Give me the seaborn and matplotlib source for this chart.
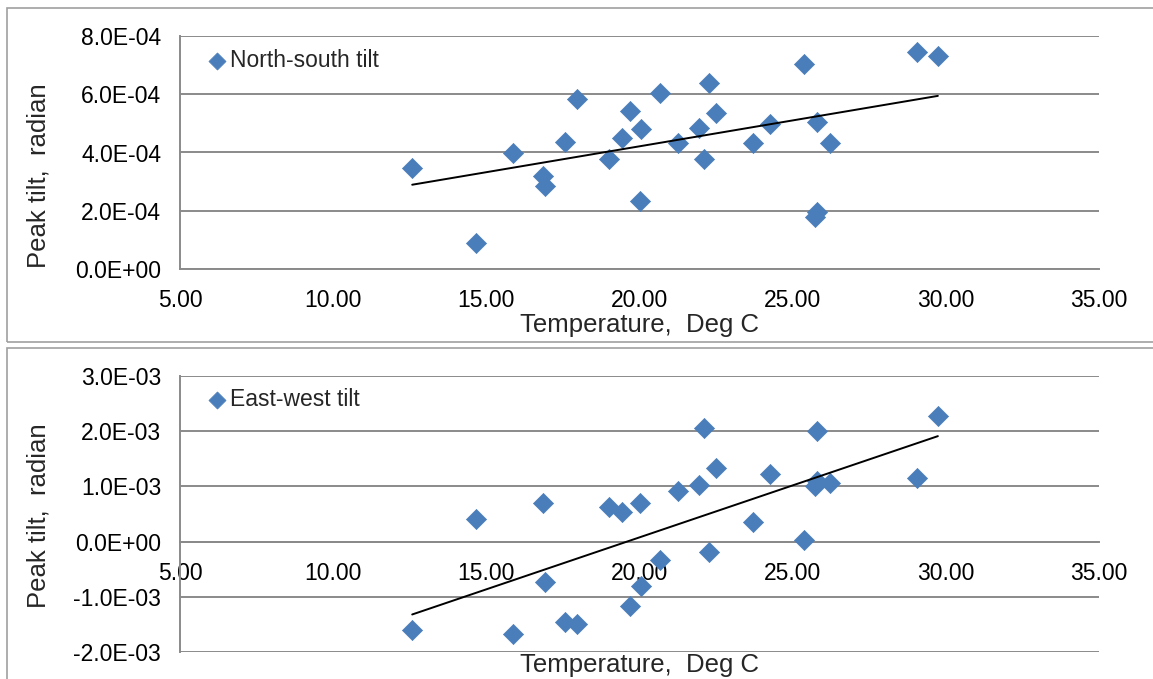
import matplotlib
matplotlib.use("Agg")
import matplotlib.pyplot as plt
import matplotlib.patches as mpatches
from matplotlib.ticker import FuncFormatter, MultipleLocator
import seaborn as sns
import numpy as np

# ---- data ----
temperature = [12.58, 14.66, 15.88, 16.85, 16.93, 17.56, 17.97, 19.02, 19.44, 19.69,
               20.00, 20.05, 20.66, 21.27, 21.94, 22.12, 22.28, 22.51, 23.72, 24.25,
               25.38, 25.73, 25.78, 25.81, 26.23, 29.07, 29.74]
ns_tilt = [3.47e-4, 0.88e-4, 3.98e-4, 3.21e-4, 2.84e-4, 4.36e-4, 5.82e-4, 3.79e-4, 4.51e-4, 5.43e-4,
           2.35e-4, 4.79e-4, 6.05e-4, 4.31e-4, 4.84e-4, 3.79e-4, 6.37e-4, 5.36e-4, 4.31e-4, 4.99e-4,
           7.03e-4, 1.78e-4, 1.97e-4, 5.05e-4, 4.31e-4, 7.44e-4, 7.31e-4]
ew_tilt = [-1.60e-3, 0.41e-3, -1.67e-3, 0.70e-3, -0.73e-3, -1.46e-3, -1.49e-3, 0.62e-3, 0.53e-3, -1.16e-3,
           0.70e-3, -0.81e-3, -0.33e-3, 0.91e-3, 1.02e-3, 2.05e-3, -0.19e-3, 1.33e-3, 0.35e-3, 1.23e-3,
           0.03e-3, 1.00e-3, 1.10e-3, 2.01e-3, 1.07e-3, 1.16e-3, 2.28e-3]
series_names = ["North-south tilt", "East-west tilt"]
x_label = "Temperature,  Deg C"
y_label = "Peak tilt,  radian"

sns.set_style("white")
plt.rcParams['font.family'] = ['Liberation Sans', 'DejaVu Sans']

W, H = 1153, 679
fig = plt.figure(figsize=(W / 100, H / 100), dpi=100)

blue = "#4A7EBB"
grid_c = "#8a8a8a"

def px_ax(l, r, t, b):
    return fig.add_axes([l / W, 1 - b / H, (r - l) / W, (b - t) / H])

ax1 = px_ax(180, 1099, 36, 269)
ax2 = px_ax(180, 1099, 376, 652)

# outer boxes
for (t, b) in [(8, 342), (348, 700)]:
    fig.patches.append(mpatches.Rectangle((7 / W, 1 - b / H), (1170 - 7) / W, (b - t) / H,
                                          transform=fig.transFigure, fill=False,
                                          edgecolor="#a0a0a0", lw=1.2, clip_on=False))

configs = [
    (ax1, ns_tilt, series_names[0], (0, 8e-4), 2e-4, (-0.240, 0.399), 0.943),
    (ax2, ew_tilt, series_names[1], (-2e-3, 3e-3), 1e-3, (-0.047, 0.493), 0.955),
]

for ax, yvals, name, ylim, ystep, (xl_y, yl_y), leg_y in configs:
    sns.scatterplot(x=temperature, y=yvals, marker="D", s=105, color=blue,
                    edgecolor=blue, linewidth=0.5, label=name, ax=ax, zorder=3)
    sns.regplot(x=temperature, y=yvals, scatter=False, ci=None, truncate=True,
                color="black", line_kws={"lw": 1.4, "zorder": 4}, ax=ax)
    ax.set_xlim(5, 35)
    ax.set_ylim(*ylim)
    ax.xaxis.set_major_locator(MultipleLocator(5))
    ax.yaxis.set_major_locator(MultipleLocator(ystep))
    ax.xaxis.set_major_formatter(FuncFormatter(lambda v, p: f"{v:.2f}"))
    ax.yaxis.set_major_formatter(FuncFormatter(lambda v, p: f"{v:.1E}"))
    ax.grid(axis="y", color=grid_c, lw=1.4)
    ax.grid(axis="x", visible=False)
    ax.set_axisbelow(True)
    for s in ["top", "right"]:
        ax.spines[s].set_visible(False)
    for s in ["left", "bottom"]:
        ax.spines[s].set_color(grid_c)
        ax.spines[s].set_linewidth(1.4)
    ax.spines["bottom"].set_position(("data", 0))
    ax.tick_params(axis="both", direction="out", length=4.5, width=1.0, color=grid_c,
                   labelsize=16.5, labelcolor="black")
    ax.tick_params(axis="x", pad=10)
    ax.tick_params(axis="y", pad=9)
    ax.set_xlabel(x_label, fontsize=18.5)
    ax.set_ylabel(y_label, fontsize=18.5)
    ax.xaxis.set_label_coords(0.5, xl_y)
    ax.xaxis.label.set_va("center")
    ax.yaxis.set_label_coords(-0.1543, yl_y)
    ax.yaxis.label.set_va("center")
    ax.legend(loc="upper left", bbox_to_anchor=(0.028, leg_y), frameon=False,
              handletextpad=0.05, handlelength=1.0, markerscale=0.85,
              borderaxespad=0, borderpad=0, fontsize=16.5)

fig.savefig("out.png", dpi=100)
